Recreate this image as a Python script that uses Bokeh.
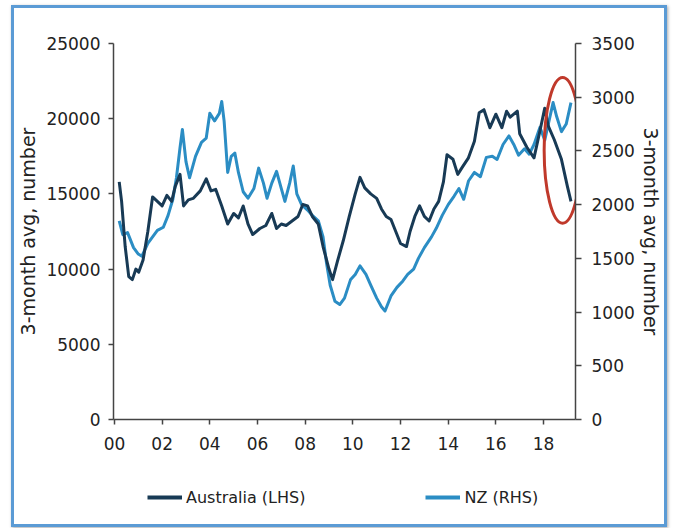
from bokeh.plotting import figure
from bokeh.layouts import column
from bokeh.models import (Range1d, LinearAxis, FixedTicker, Legend, LegendItem,
                          ColumnDataSource)
from bokeh.embed import file_html
from bokeh.resources import INLINE

# Building approvals, 3-month average (number of dwellings)
aus_year = [2000.20, 2000.30, 2000.45, 2000.60, 2000.75, 2000.90, 2001.02, 2001.20,
            2001.40, 2001.60, 2001.80, 2002.00, 2002.20, 2002.40, 2002.55, 2002.75,
            2002.90, 2003.10, 2003.30, 2003.60, 2003.85, 2004.05, 2004.25, 2004.50,
            2004.75, 2005.00, 2005.20, 2005.40, 2005.60, 2005.80, 2006.10, 2006.35,
            2006.60, 2006.80, 2007.00, 2007.20, 2007.45, 2007.70, 2007.90, 2008.10,
            2008.30, 2008.55, 2008.75, 2009.00, 2009.15, 2009.35, 2009.60, 2009.85,
            2010.10, 2010.30, 2010.50, 2010.75, 2011.00, 2011.20, 2011.40, 2011.60,
            2011.80, 2012.00, 2012.25, 2012.40, 2012.60, 2012.80, 2013.00, 2013.20,
            2013.40, 2013.60, 2013.80, 2013.95, 2014.20, 2014.40, 2014.60, 2014.85,
            2015.10, 2015.30, 2015.50, 2015.75, 2016.00, 2016.25, 2016.45, 2016.60,
            2016.90, 2017.00, 2017.30, 2017.60, 2017.85, 2018.05, 2018.20, 2018.45,
            2018.75, 2019.00, 2019.15]
aus_value = [15800, 14500, 11500, 9500, 9300, 10000, 9800, 10600,
             12500, 14800, 14500, 14200, 14900, 14500, 15500, 16300,
             14200, 14600, 14700, 15200, 16000, 15200, 15300, 14200,
             13000, 13700, 13400, 14200, 13000, 12300, 12700, 12900,
             13700, 12700, 13000, 12900, 13200, 13500, 14300, 14200,
             13500, 13000, 11500, 10000, 9300, 10500, 11900, 13500,
             15000, 16100, 15400, 15000, 14700, 14000, 13500, 13300,
             12500, 11700, 11500, 12500, 13500, 14200, 13500, 13200,
             14000, 14500, 15800, 17600, 17300, 16300, 16800, 17400,
             18500, 20400, 20600, 19400, 20300, 19400, 20500, 20100,
             20500, 19000, 18100, 17400, 19200, 20700, 19500, 18600,
             17300, 15500, 14500]

nz_year = [2000.20, 2000.35, 2000.55, 2000.80, 2001.00, 2001.15, 2001.40, 2001.60,
           2001.80, 2002.05, 2002.25, 2002.45, 2002.60, 2002.75, 2002.85, 2003.00,
           2003.15, 2003.40, 2003.65, 2003.85, 2004.00, 2004.20, 2004.40, 2004.50,
           2004.60, 2004.75, 2004.90, 2005.05, 2005.20, 2005.40, 2005.60, 2005.85,
           2006.05, 2006.25, 2006.40, 2006.60, 2006.80, 2007.00, 2007.15, 2007.35,
           2007.50, 2007.65, 2007.85, 2008.10, 2008.30, 2008.55, 2008.75, 2008.90,
           2009.05, 2009.25, 2009.45, 2009.65, 2009.90, 2010.10, 2010.30, 2010.55,
           2010.75, 2011.00, 2011.20, 2011.35, 2011.60, 2011.85, 2012.10, 2012.30,
           2012.55, 2012.75, 2013.00, 2013.30, 2013.50, 2013.75, 2014.00, 2014.25,
           2014.45, 2014.65, 2014.85, 2015.10, 2015.35, 2015.60, 2015.85, 2016.05,
           2016.30, 2016.55, 2016.75, 2016.95, 2017.20, 2017.40, 2017.60, 2017.85,
           2018.05, 2018.25, 2018.40, 2018.55, 2018.75, 2018.95, 2019.15]
nz_value = [1850, 1720, 1740, 1600, 1540, 1520, 1640, 1700,
            1760, 1790, 1900, 2050, 2250, 2530, 2700, 2400,
            2250, 2450, 2580, 2620, 2850, 2780, 2850, 2960,
            2780, 2300, 2450, 2480, 2300, 2120, 2060, 2150,
            2340, 2200, 2060, 2200, 2310, 2150, 2030, 2200,
            2360, 2100, 2000, 1950, 1900, 1850, 1700, 1450,
            1250, 1100, 1070, 1130, 1300, 1350, 1430, 1350,
            1250, 1130, 1050, 1010, 1150, 1230, 1290, 1350,
            1400, 1500, 1600, 1700, 1780, 1900, 2000, 2080,
            2150, 2050, 2220, 2300, 2260, 2440, 2450, 2420,
            2560, 2640, 2560, 2460, 2520, 2470, 2560, 2720,
            2600, 2800, 2950, 2820, 2680, 2750, 2950]

series_labels = ["Australia (LHS)", "NZ (RHS)"]
x_ticks = [2000, 2002, 2004, 2006, 2008, 2010, 2012, 2014, 2016, 2018]
x_tick_labels = ["00", "02", "04", "06", "08", "10", "12", "14", "16", "18"]
left_ticks = [0, 5000, 10000, 15000, 20000, 25000]
right_ticks = [0, 500, 1000, 1500, 2000, 2500, 3000, 3500]

# highlighted recent period (years, Australia scale)
hl_x, hl_w = 2018.80, 1.55
hl_y, hl_h = 17900, 9700

AUS_COLOR = "#183a55"
NZ_COLOR = "#2b8dc4"
FONT = "DejaVu Sans"

p = figure(width=650, height=466, output_backend="svg", toolbar_location=None,
           x_range=Range1d(1999.96, 2019.34), y_range=Range1d(0, 25000),
           min_border_left=97, min_border_right=89, min_border_top=35,
           min_border_bottom=55)
p.extra_y_ranges = {"nz": Range1d(0, 3500)}
p.grid.visible = False
p.outline_line_color = None
p.background_fill_color = "white"
p.border_fill_color = "white"

aus_src = ColumnDataSource(dict(x=aus_year, y=aus_value))
nz_src = ColumnDataSource(dict(x=nz_year, y=nz_value))
p.line("x", "y", source=nz_src, y_range_name="nz", color=NZ_COLOR,
       line_width=3, line_join="round")
p.line("x", "y", source=aus_src, color=AUS_COLOR, line_width=3,
       line_join="round")

p.ellipse(x=[hl_x], y=[hl_y], width=[hl_w], height=[hl_h], fill_alpha=0,
          line_color="#c0392b", line_width=3)


def style_axis(ax):
    ax.axis_line_color = "#444444"
    ax.axis_line_width = 1.5
    ax.major_tick_line_color = "#444444"
    ax.major_tick_line_width = 1.5
    ax.major_tick_in = 0
    ax.major_tick_out = 5
    ax.minor_tick_line_color = None
    ax.major_label_text_font = FONT
    ax.major_label_text_font_size = "17px"
    ax.major_label_text_color = "#222222"
    ax.axis_label_text_font = FONT
    ax.axis_label_text_font_size = "19px"
    ax.axis_label_text_font_style = "normal"
    ax.axis_label_text_color = "#222222"


xa = p.xaxis[0]
xa.ticker = FixedTicker(ticks=x_ticks)
xa.major_label_overrides = {t: s for t, s in zip(x_ticks, x_tick_labels)}
style_axis(xa)
xa.major_label_standoff = 12

ya = p.yaxis[0]
ya.ticker = FixedTicker(ticks=left_ticks)
ya.axis_label = "3-month avg, number"
style_axis(ya)
ya.major_label_standoff = 8
ya.axis_label_standoff = 4

ra = LinearAxis(y_range_name="nz", ticker=FixedTicker(ticks=right_ticks),
                axis_label="3-month avg, number")
style_axis(ra)
ra.major_tick_out = 6
ra.major_label_standoff = 10
ra.axis_label_standoff = 2
p.add_layout(ra, "right")

# legend strip under the chart; its lines reuse the series but fall outside
# this strip's 0..1 ranges, so only the legend keys show
leg = figure(width=650, height=50, output_backend="svg", toolbar_location=None,
             x_range=Range1d(0, 1), y_range=Range1d(0, 1),
             x_axis_type=None, y_axis_type=None, min_border=0)
leg.grid.visible = False
leg.outline_line_color = None
leg.border_fill_color = "white"
k_aus = leg.line("x", "y", source=aus_src, color=AUS_COLOR, line_width=4)
k_nz = leg.line("x", "y", source=nz_src, color=NZ_COLOR, line_width=4)
legend = Legend(items=[LegendItem(label=series_labels[0], renderers=[k_aus]),
                       LegendItem(label=series_labels[1], renderers=[k_nz])],
                orientation="horizontal", location=(34, 17),
                spacing=120, glyph_width=35, glyph_height=20, label_standoff=4,
                padding=0, margin=0, label_text_font=FONT,
                label_text_font_size="16px", label_text_color="#222222",
                background_fill_alpha=0, border_line_alpha=0)
leg.add_layout(legend)

layout = column(p, leg, spacing=0)
layout.margin = (5, 0, 0, 11)
layout.styles = {"border": "3px solid #5b9bd5", "box-shadow": "1px 1px 3px #aaa",
                 "background-color": "white"}

open("out.html", "w").write(file_html(layout, INLINE))
